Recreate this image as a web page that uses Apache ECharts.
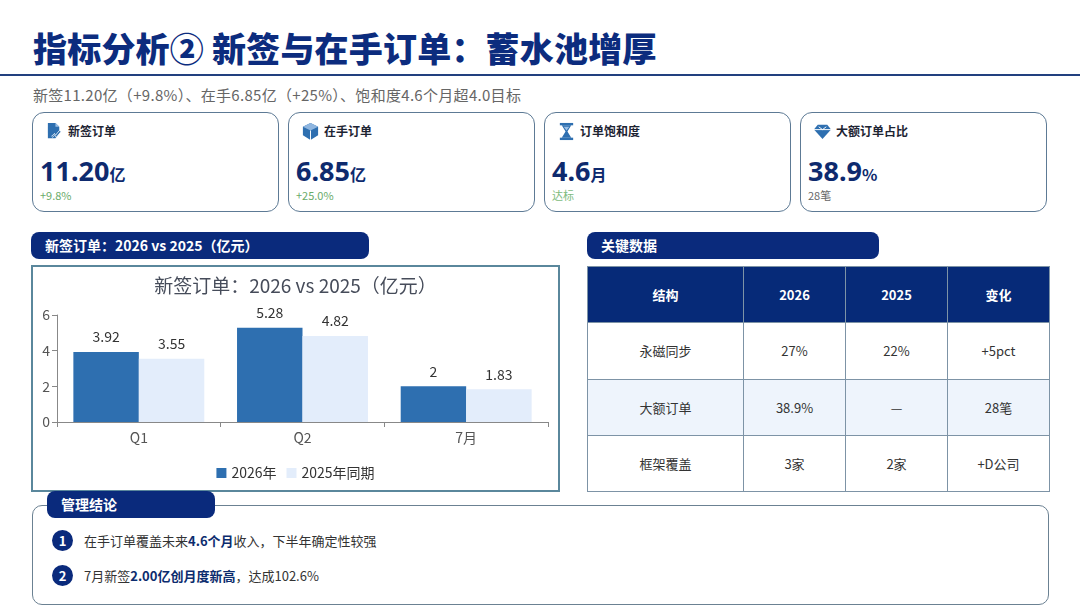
<!DOCTYPE html>
<html><head><meta charset="utf-8">
<script src="https://cdn.jsdelivr.net/npm/echarts@6/dist/echarts.min.js"></script>
<style>
*{margin:0;padding:0;box-sizing:border-box;}
body{width:1080px;height:608px;background:#fff;position:relative;overflow:hidden;font-family:"Microsoft YaHei","Noto Sans CJK SC","Noto Sans",sans-serif;color:#333;}
.abs{position:absolute;}
#title{left:33px;top:26px;font-size:34px;font-weight:900;color:#0c2c7e;letter-spacing:0.2px;white-space:nowrap;line-height:44px;}
#rule{left:0;top:74px;width:1080px;height:2px;background:#22407f;}
#sub{left:33px;top:86px;font-size:15px;letter-spacing:0.3px;color:#666;white-space:nowrap;line-height:18px;}
.card{position:absolute;top:112px;width:247px;height:100px;border:1.5px solid #5d7a95;border-radius:12px;background:#fff;}
.card .ic{position:absolute;left:12px;top:9px;width:19px;height:19px;}
.card .lb{position:absolute;left:35px;top:9px;font-size:12px;font-weight:700;color:#1d2433;line-height:18px;white-space:nowrap;}
.card .val{position:absolute;left:7px;top:43px;font-size:27px;font-weight:700;color:#0e2a6e;line-height:30px;white-space:nowrap;font-family:"Noto Sans","Noto Sans CJK SC",sans-serif;}
.card .val span{font-size:16px;font-family:"Noto Sans CJK SC",sans-serif;}
.card .ch{position:absolute;left:7px;top:75px;font-size:11px;line-height:14px;white-space:nowrap;}
.hdr{position:absolute;height:27px;background:#0a2a7c;border-radius:8px;color:#fff;font-weight:700;font-size:14px;line-height:27px;padding-left:14px;white-space:nowrap;}
#chartBox{left:31px;top:265px;width:529px;height:227px;border:2px solid #5a879c;}
#chart{left:33px;top:267px;width:525px;height:223px;}
table{position:absolute;left:587px;top:266px;width:462px;height:226px;border-collapse:collapse;table-layout:fixed;}
td,th{border:1px solid #7d93a6;text-align:center;font-size:13px;color:#333;font-weight:400;}
th{background:#062a78;color:#fff;font-weight:700;height:56px;}
td{height:56px;}
tr.alt td{background:#eef4fc;}
#concl{left:32px;top:505px;width:1017px;height:100px;border:1.5px solid #6b8192;border-radius:10px;}
.item{position:absolute;left:52px;height:22px;white-space:nowrap;}
.item .n{position:absolute;left:0;top:0;width:21px;height:21px;border-radius:50%;background:#0a2a7c;color:#fff;font-weight:700;font-size:13px;line-height:21px;text-align:center;}
.item .t{position:absolute;left:32px;top:0;font-size:13px;line-height:21px;color:#333;}
.item .t b{color:#0c2c6e;font-weight:700;}
</style></head>
<body>
<div id="title" class="abs"></div>
<div id="rule" class="abs"></div>
<div id="sub" class="abs"></div>
<div id="cards"></div>
<div class="hdr" style="left:31px;top:232px;width:338px;" id="hdrChart"></div>
<div class="hdr" style="left:587px;top:232px;width:292px;" id="hdrTable"></div>
<div id="chartBox" class="abs"></div>
<div id="chart" class="abs"></div>
<table id="tbl"></table>
<div id="concl" class="abs"></div>
<div class="hdr" style="left:47px;top:491px;width:168px;" id="hdrConcl"></div>
<div id="items"></div>
<script>
// ---- data ----
const pageTitle = "指标分析② 新签与在手订单：蓄水池增厚";
const subtitle = "新签11.20亿（+9.8%）、在手6.85亿（+25%）、饱和度4.6个月超4.0目标";
const kpiLabels = ["新签订单","在手订单","订单饱和度","大额订单占比"];
const kpiValues = ["11.20","6.85","4.6","38.9"];
const kpiUnits = ["亿","亿","月","%"];
const kpiNotes = ["+9.8%","+25.0%","达标","28笔"];
const kpiNoteColors = ["#6aab6a","#6aab6a","#7dbb7d","#666"];
const chartTitle = "新签订单：2026 vs 2025（亿元）";
const categories = ["Q1","Q2","7月"];
const seriesNames = ["2026年","2025年同期"];
const values2026 = [3.92,5.28,2];
const values2025 = [3.55,4.82,1.83];
const tableHeader = ["结构","2026","2025","变化"];
const tableRow1 = ["永磁同步","27%","22%","+5pct"];
const tableRow2 = ["大额订单","38.9%","—","28笔"];
const tableRow3 = ["框架覆盖","3家","2家","+D公司"];
const conclusions = [
  "在手订单覆盖未来<b>4.6个月</b>收入，下半年确定性较强",
  "7月新签<b>2.00亿创月度新高</b>，达成102.6%"
];

// ---- icons ----
const icons = [
 '<svg viewBox="0 0 20 20"><path d="M3 1h8l4 4v6l-4 6H3z" fill="#2e6fb0"/><path d="M11 1v4h4z" fill="#9cc0e6"/><path d="M7 15l3-3 1 2 4-5 2 1-5 6-2-2-2 2z" fill="#2e6fb0" stroke="#fff" stroke-width="0.8"/></svg>',
 '<svg viewBox="0 0 20 20"><path d="M10 1l8 4v9l-8 5-8-5V5z" fill="#2e6fb0"/><path d="M2 5l8 4 8-4-8-4z" fill="#8fb6e0"/><path d="M10 9v10" stroke="#fff" stroke-width="1"/></svg>',
 '<svg viewBox="0 0 20 20"><rect x="3" y="1" width="14" height="2.5" fill="#2e6fb0"/><rect x="3" y="16.5" width="14" height="2.5" fill="#2e6fb0"/><path d="M5 3.5h10l-4 6.5 4 6.5H5l4-6.5z" fill="#2e6fb0"/><path d="M7 5h6l-3 4z" fill="#9cc0e6"/></svg>',
 '<svg viewBox="0 0 20 20"><path d="M5 3h10l4 5-9 10L1 8z" fill="#2e6fb0"/><path d="M1 8h18" stroke="#fff" stroke-width="1"/><path d="M6 5l4 3 4-3" stroke="#fff" stroke-width="1" fill="none"/></svg>'
];

document.getElementById('title').textContent = pageTitle;
document.getElementById('sub').textContent = subtitle;
document.getElementById('hdrChart').textContent = chartTitle;
document.getElementById('hdrTable').textContent = "关键数据";
document.getElementById('hdrConcl').textContent = "管理结论";

const cardLefts = [32,288,544,800];
let ch = '';
kpiLabels.forEach((l,i)=>{
  ch += `<div class="card" style="left:${cardLefts[i]}px"><div class="ic">${icons[i]}</div><div class="lb">${l}</div>`+
        `<div class="val">${kpiValues[i]}<span>${kpiUnits[i]}</span></div>`+
        `<div class="ch" style="color:${kpiNoteColors[i]}">${kpiNotes[i]}</div></div>`;
});
document.getElementById('cards').innerHTML = ch;

let th = '<colgroup><col style="width:156px"><col style="width:102px"><col style="width:102px"><col style="width:102px"></colgroup>';
th += '<tr>' + tableHeader.map(h=>`<th>${h}</th>`).join('') + '</tr>';
[tableRow1,tableRow2,tableRow3].forEach((r,i)=>{
  th += `<tr class="${i===1?'alt':''}">` + r.map(c=>`<td>${c}</td>`).join('') + '</tr>';
});
document.getElementById('tbl').innerHTML = th;

let it = '';
conclusions.forEach((c,i)=>{
  it += `<div class="item" style="top:${530+i*35}px"><div class="n">${i+1}</div><div class="t">${c}</div></div>`;
});
document.getElementById('items').innerHTML = it;

// ---- chart ----
const chart = echarts.init(document.getElementById('chart'), null, {renderer:'canvas'});
const fam = '"Microsoft YaHei","Noto Sans CJK SC",sans-serif';
chart.setOption({
  animation:false,
  textStyle:{fontFamily:fam},
  title:{text:chartTitle,left:'center',top:4,textStyle:{fontSize:19,fontWeight:'normal',color:'#464c5a',fontFamily:fam}},
  legend:{data:seriesNames,left:'center',top:194,itemWidth:10,itemHeight:10,itemGap:10,icon:'rect',textStyle:{fontSize:14,color:'#333',fontFamily:fam}},
  grid:{left:24,right:10,top:48,bottom:68,containLabel:false},
  xAxis:{type:'category',data:categories,axisLine:{lineStyle:{color:'#888'}},axisTick:{show:true,lineStyle:{color:'#888'}},
         axisLabel:{fontSize:14,color:'#555',margin:9,fontFamily:fam}},
  yAxis:{type:'value',min:0,max:6,interval:2,axisLine:{show:true,lineStyle:{color:'#888'}},axisTick:{show:true,lineStyle:{color:'#888'}},
         splitLine:{show:false},axisLabel:{fontSize:14,color:'#555',margin:7,fontFamily:fam}},
  series:[
    {name:seriesNames[0],type:'bar',data:values2026,barGap:'0%',barCategoryGap:'20%',itemStyle:{color:'#2e6fb0'},
     label:{show:true,position:'top',distance:8,fontSize:14,color:'#333',fontFamily:fam}},
    {name:seriesNames[1],type:'bar',data:values2025,barGap:'0%',barCategoryGap:'20%',itemStyle:{color:'#e3edfb'},
     label:{show:true,position:'top',distance:8,fontSize:14,color:'#333',fontFamily:fam}}
  ]
});
</script>
</body></html>
